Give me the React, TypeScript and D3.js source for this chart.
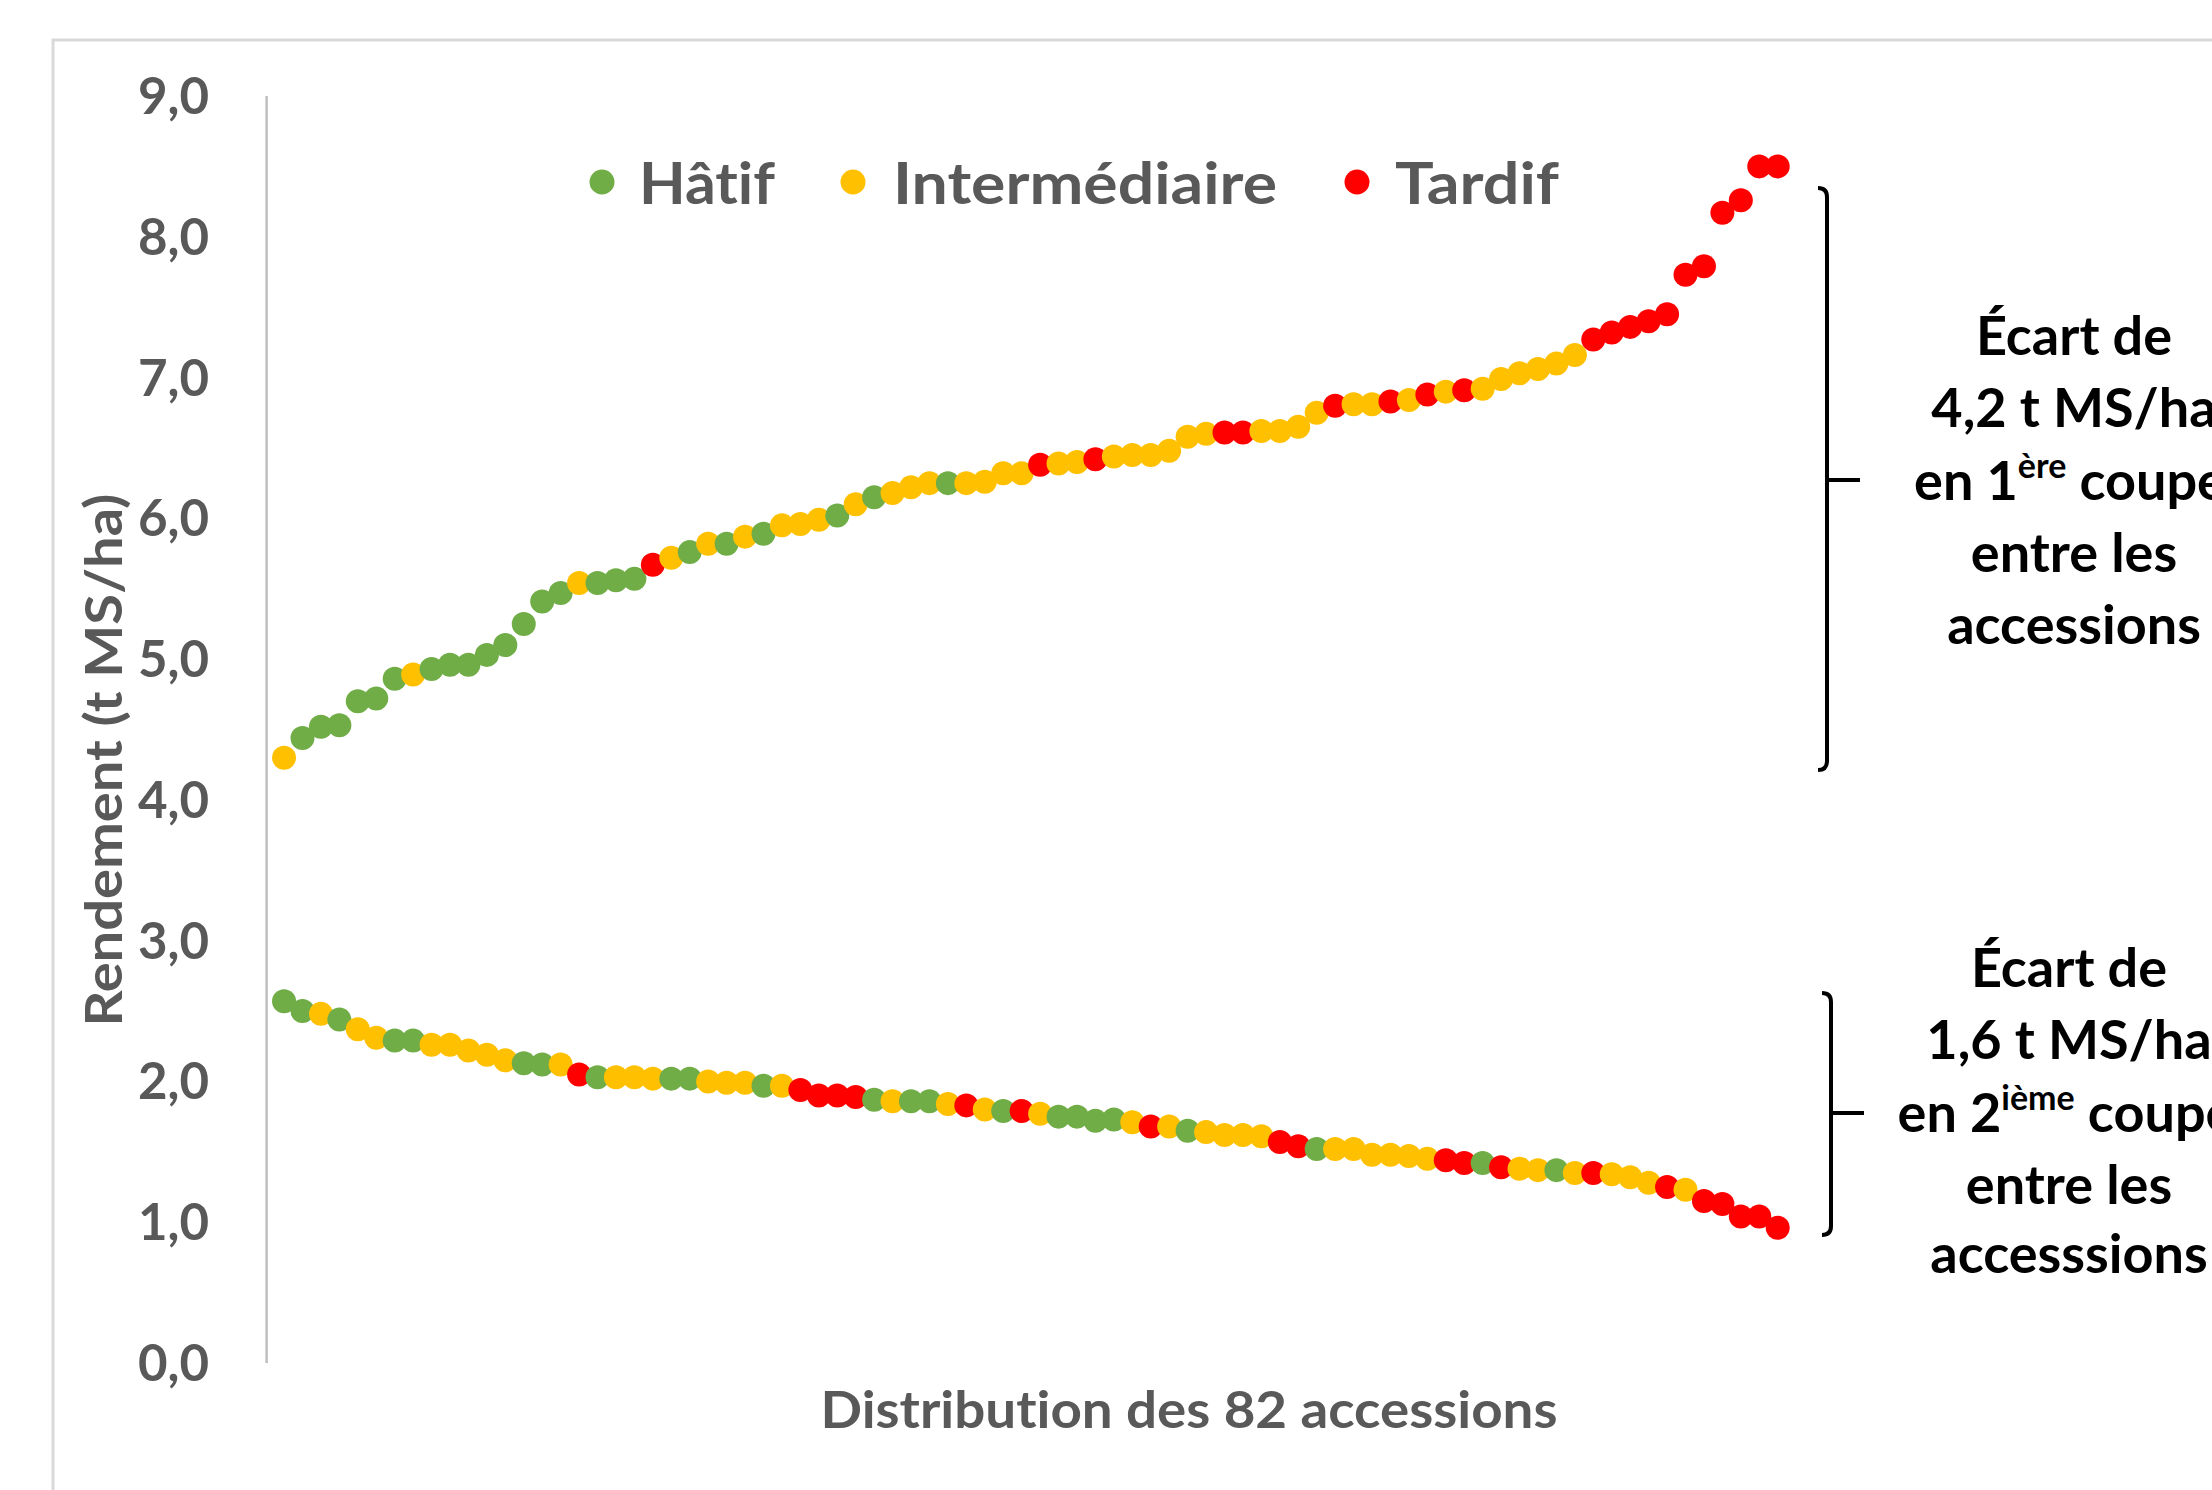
import React from "react";
import * as d3 from "d3";

// Precocity classes: H = Hâtif, I = Intermédiaire, T = Tardif
const classNames = ["Hâtif", "Intermédiaire", "Tardif"];
const classColors = ["#70AD47", "#FFC000", "#FF0000"];

// 1st cut yield (t MS/ha), sorted ascending
const cut1Values = [
  4.30, 4.44, 4.52, 4.53, 4.70, 4.72, 4.86, 4.89, 4.93, 4.96,
  4.96, 5.03, 5.10, 5.25, 5.41, 5.47, 5.54, 5.54, 5.56, 5.57,
  5.67, 5.72, 5.76, 5.82, 5.82, 5.87, 5.89, 5.95, 5.96, 5.99,
  6.02, 6.10, 6.15, 6.18, 6.22, 6.25, 6.25, 6.25, 6.26, 6.32,
  6.32, 6.38, 6.39, 6.40, 6.42, 6.44, 6.45, 6.45, 6.48, 6.58,
  6.60, 6.61, 6.61, 6.62, 6.62, 6.65, 6.75, 6.80, 6.81, 6.81,
  6.83, 6.84, 6.88, 6.90, 6.91, 6.92, 6.99, 7.03, 7.06, 7.10,
  7.16, 7.27, 7.32, 7.36, 7.40, 7.45, 7.73, 7.79, 8.17, 8.26,
  8.50, 8.50,
];
const cut1Classes = [
  "I", "H", "H", "H", "H", "H", "H", "I", "H", "H",
  "H", "H", "H", "H", "H", "H", "I", "H", "H", "H",
  "T", "I", "H", "I", "H", "I", "H", "I", "I", "I",
  "H", "I", "H", "I", "I", "I", "H", "I", "I", "I",
  "I", "T", "I", "I", "T", "I", "I", "I", "I", "I",
  "I", "T", "T", "I", "I", "I", "I", "T", "I", "I",
  "T", "I", "T", "I", "T", "I", "I", "I", "I", "I",
  "I", "T", "T", "T", "T", "T", "T", "T", "T", "T",
  "T", "T",
];

// 2nd cut yield (t MS/ha), sorted descending
const cut2Values = [
  2.57, 2.50, 2.48, 2.44, 2.37, 2.31, 2.29, 2.29, 2.26, 2.26,
  2.22, 2.19, 2.15, 2.13, 2.12, 2.12, 2.05, 2.03, 2.03, 2.03,
  2.02, 2.02, 2.02, 2.00, 1.99, 1.99, 1.97, 1.97, 1.94, 1.90,
  1.90, 1.89, 1.87, 1.86, 1.86, 1.86, 1.84, 1.83, 1.80, 1.79,
  1.79, 1.77, 1.75, 1.75, 1.72, 1.73, 1.71, 1.68, 1.68, 1.65,
  1.64, 1.62, 1.62, 1.61, 1.57, 1.54, 1.52, 1.52, 1.52, 1.48,
  1.48, 1.47, 1.45, 1.44, 1.42, 1.42, 1.39, 1.38, 1.37, 1.37,
  1.35, 1.35, 1.34, 1.32, 1.28, 1.25, 1.23, 1.15, 1.13, 1.04,
  1.04, 0.96,
];
const cut2Classes = [
  "H", "H", "I", "H", "I", "I", "H", "H", "I", "I",
  "I", "I", "I", "H", "H", "I", "T", "H", "I", "I",
  "I", "H", "H", "I", "I", "I", "H", "I", "T", "T",
  "T", "T", "H", "I", "H", "H", "I", "T", "I", "H",
  "T", "I", "H", "H", "H", "H", "I", "T", "I", "H",
  "I", "I", "I", "I", "T", "T", "H", "I", "I", "I",
  "I", "I", "I", "T", "T", "H", "T", "I", "I", "H",
  "I", "T", "I", "I", "I", "T", "I", "T", "T", "T",
  "T", "T",
];

const yTicks = [0, 1, 2, 3, 4, 5, 6, 7, 8, 9];

const W = 2212;
const H = 1490;
const FONT = "Lato, 'Open Sans', sans-serif";
const GREY = "#595959";
const noLig: React.CSSProperties = { fontVariantLigatures: "none", fontFeatureSettings: "'liga' 0, 'clig' 0" };

const classIndex: Record<string, number> = { H: 0, I: 1, T: 2 };

export default function App() {
  const x = d3.scaleLinear().domain([0, 82]).range([265.6, 1777.7]);
  const y = d3.scaleLinear().domain([0, 9]).range([1363, 96]);
  const fmt = (v: number) => d3.format(".1f")(v).replace(".", ",");

  const pts1 = cut1Values.map((v, i) => ({ x: x(i + 1), y: y(v), c: classColors[classIndex[cut1Classes[i]]] }));
  const pts2 = cut2Values.map((v, i) => ({ x: x(i + 1), y: y(v), c: classColors[classIndex[cut2Classes[i]]] }));

  const legendX = [602, 853, 1357];
  const legendTextX = [639, 893, 1395];
  const legendW = [136, 384, 164];

  const bracket = (bx: number, y1: number, y2: number, ym: number) =>
    `M${bx - 9},${y1} Q${bx},${y1} ${bx},${y1 + 9} L${bx},${y2 - 9} Q${bx},${y2} ${bx - 9},${y2} M${bx},${ym} L${bx + 33},${ym}`;

  return (
    <svg width={W} height={H} style={{ position: "absolute", left: 0, top: 0, display: "block", background: "#fff", ...noLig }}>
      <rect x={0} y={0} width={W} height={H} fill="#ffffff" />
      <rect x={53} y={40} width={W + 100} height={H + 100} fill="none" stroke="#d9d9d9" strokeWidth={3} />

      {/* y axis */}
      <line x1={266.6} x2={266.6} y1={y(9)} y2={y(0)} stroke="#bfbfbf" strokeWidth={2.5} />
      {yTicks.map((t) => (
        <text key={t} x={209} y={y(t) + 18} textAnchor="end" fontFamily={FONT} fontWeight="bold" fontSize={51} fill={GREY}>
          {fmt(t)}
        </text>
      ))}

      <text
        transform={`translate(122,760) rotate(-90)`}
        textAnchor="middle"
        fontFamily={FONT}
        fontWeight="bold"
        fontSize={51}
        fill={GREY}
        textLength={533}
        lengthAdjust="spacingAndGlyphs"
      >
        Rendement (t MS/ha)
      </text>

      <text x={1189} y={1428} textAnchor="middle" fontFamily={FONT} fontWeight="bold" fontSize={51} fill={GREY} textLength={737} lengthAdjust="spacingAndGlyphs">
        Distribution des 82 accessions
      </text>

      {/* legend */}
      {classNames.map((n, i) => (
        <g key={n}>
          <circle cx={legendX[i]} cy={182} r={12.5} fill={classColors[i]} />
          <text x={legendTextX[i]} y={204} fontFamily={FONT} fontWeight="bold" fontSize={58} fill={GREY} textLength={legendW[i]} lengthAdjust="spacingAndGlyphs">
            {n}
          </text>
        </g>
      ))}

      {/* points */}
      {pts1.map((p, i) => (
        <circle key={"a" + i} cx={p.x} cy={p.y} r={12} fill={p.c} />
      ))}
      {pts2.map((p, i) => (
        <circle key={"b" + i} cx={p.x} cy={p.y} r={12} fill={p.c} />
      ))}

      {/* brackets */}
      <path d={bracket(1827, 188, 770, 480)} fill="none" stroke="#000" strokeWidth={4} />
      <path d={bracket(1831, 993, 1235, 1113)} fill="none" stroke="#000" strokeWidth={4} />

      <g fontFamily={FONT} fontWeight="bold" fontSize={54} fill="#000" textAnchor="middle">
        <text x={2074} y={355}>Écart de</text>
        <text x={2074} y={427}>4,2 t MS/ha</text>
        <text x={2070} y={500}>
          en 1<tspan fontSize={34} dy={-22}>ère</tspan>
          <tspan dy={22}> coupe</tspan>
        </text>
        <text x={2074} y={572}>entre les</text>
        <text x={2074} y={644}>accessions</text>

        <text x={2069} y={987}>Écart de</text>
        <text x={2069} y={1059}>1,6 t MS/ha</text>
        <text x={2066} y={1132}>
          en 2<tspan fontSize={34} dy={-22}>ième</tspan>
          <tspan dy={22}> coupe</tspan>
        </text>
        <text x={2069} y={1204}>entre les</text>
        <text x={2069} y={1273}>accesssions</text>
      </g>
    </svg>
  );
}
